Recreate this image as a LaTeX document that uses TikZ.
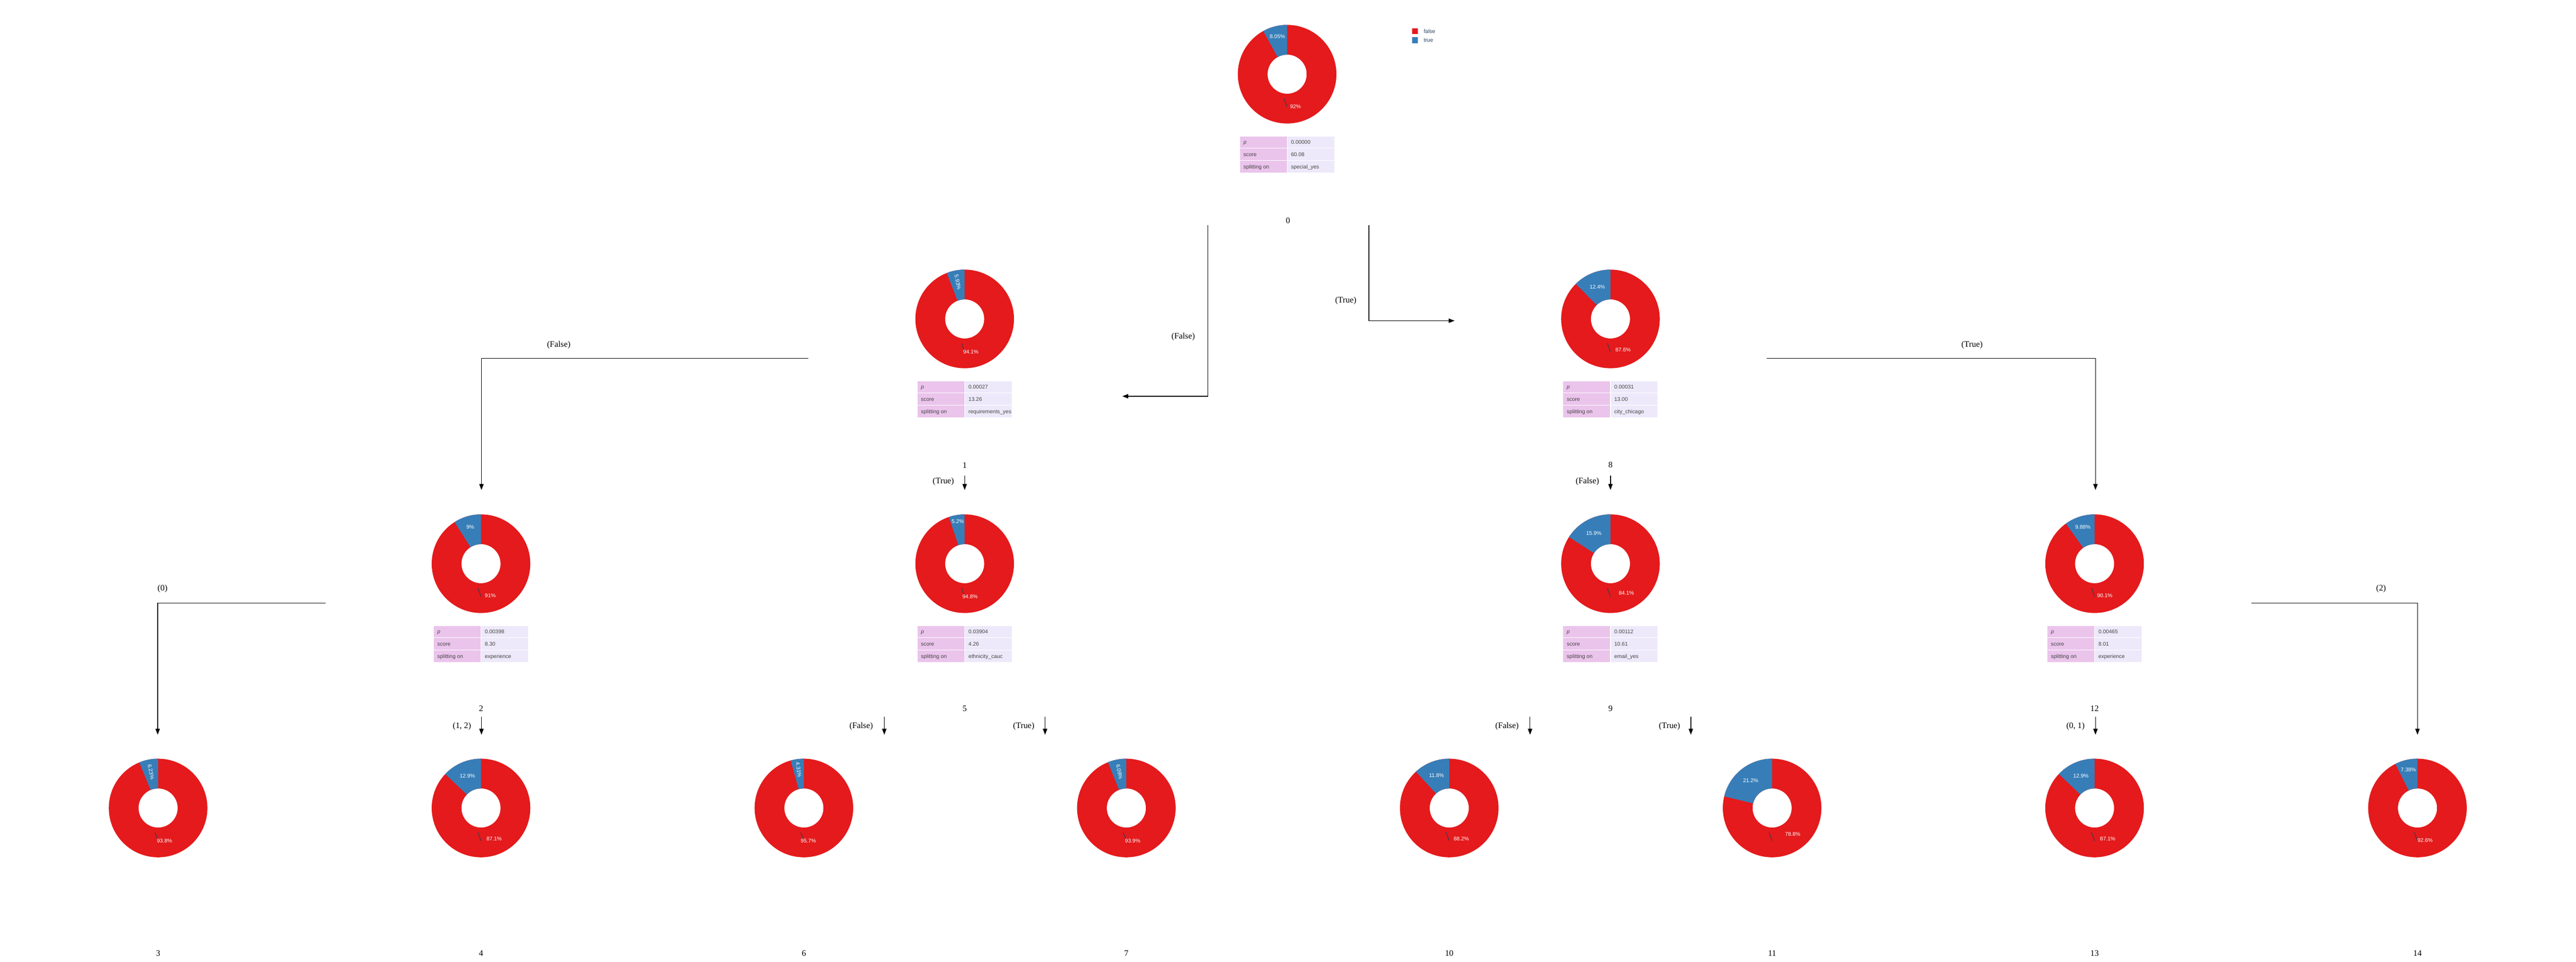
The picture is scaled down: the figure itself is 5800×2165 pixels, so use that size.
\documentclass[tikz,border=0pt]{standalone}
\usepackage{fontspec}
\setmainfont{Liberation Serif}
\setsansfont{Liberation Sans}
\usepackage{tikz}
\usetikzlibrary{calc,arrows.meta}

\definecolor{falsered}{HTML}{E41A1C}
\definecolor{trueblue}{HTML}{377EB8}
\definecolor{keycell}{RGB}{235,196,236}
\definecolor{valcell}{RGB}{237,233,250}
\definecolor{tabtext}{RGB}{68,68,68}
\definecolor{legtext}{HTML}{2A3F5F}
\definecolor{markcol}{RGB}{60,58,78}

\tikzset{
  treeedge/.style={draw=black, line width=0.4pt, -{Triangle[length=3.8pt,width=2.8pt]}},
  pct/.style={text=white, inner sep=0pt, font=\sffamily\fontsize{3.45}{4.2}\selectfont},
  piemark/.style={draw=markcol, line width=0.4pt},
  keybox/.style={fill=keycell, draw=white, line width=0.5pt},
  valbox/.style={fill=valcell, draw=white, line width=0.5pt},
  tabtxt/.style={text=tabtext, inner sep=0pt, anchor=base west, font=\sffamily\fontsize{3.45}{4.2}\selectfont},
  idlbl/.style={inner sep=0pt, font=\fontsize{5.4}{6}\selectfont},
  legtxt/.style={text=legtext, inner sep=0pt, anchor=west, font=\sffamily\fontsize{3.45}{4.2}\selectfont}
}

% donut: centre, true %, true text, false text, true label radius, true label rotation
\newcommand{\donut}[6]{%
  \pgfmathsetmacro{\angB}{90+3.6*#2}%
  \pgfmathsetmacro{\midB}{90+1.8*#2}%
  \pgfmathsetmacro{\midR}{1.8*#2-90}%
  \fill [falsered, even odd rule] (#1) circle [radius=111] circle [radius=44];
  \fill [trueblue] ($(#1)+(90:111)$) arc [start angle=90, end angle=\angB, radius=111]
        -- ($(#1)+(\angB:44)$) arc [start angle=\angB, end angle=90, radius=44] -- cycle;
  \draw [piemark] ($(#1)+(-7,-55)$) -- ($(#1)+(0,-74)$);
  \node [pct] (#1-false) at ($(#1)+(\midR:75)$) {#4};
  \node [pct, rotate=#6] (#1-true) at ($(#1)+(\midB:#5)$) {#3};
}

% split table under a donut: centre, p, score, feature
\newcommand{\splittab}[4]{%
  \foreach \k/\v [count=\i from 0] in {{\textit{p}}/#2, score/#3, splitting on/#4} {
    \filldraw [keybox] ($(#1)+(-107,-139-27.7*\i)$) rectangle ++(107,-27.7);
    \filldraw [valbox] ($(#1)+(0,-139-27.7*\i)$) rectangle ++(107,-27.7);
    \node [tabtxt] (#1-k\i) at ($(#1)+(-99,-157-27.7*\i)$) {\k};
    \node [tabtxt] (#1-v\i) at ($(#1)+(8,-157-27.7*\i)$) {\v};
  }
}

\begin{document}
\begin{tikzpicture}[x=0.1mm, y=0.1mm]
        \useasboundingbox (0,0) rectangle (5800,-2165);

        %Legend
        \fill [falsered] (3179,-64) rectangle (3192,-77);
        \node [legtxt] (legf) at (3205,-71) {false};
        \fill [trueblue] (3179,-84) rectangle (3192,-97);
        \node [legtxt] (legt) at (3205,-91) {true};

        %Centres
        \coordinate (n0)  at (2898,-167);
        \coordinate (n1)  at (2172,-718);
        \coordinate (n8)  at (3626,-718);
        \coordinate (n2)  at (1083,-1269);
        \coordinate (n5)  at (2172,-1269);
        \coordinate (n9)  at (3626,-1269);
        \coordinate (n12) at (4716,-1269);
        \coordinate (n3)  at (356,-1819);
        \coordinate (n4)  at (1083,-1819);
        \coordinate (n6)  at (1810,-1819);
        \coordinate (n7)  at (2536,-1819);
        \coordinate (n10) at (3263,-1819);
        \coordinate (n11) at (3990,-1819);
        \coordinate (n13) at (4716,-1819);
        \coordinate (n14) at (5443,-1819);

        %Root
        \donut{n0}{8.05}{8.05\%}{92\%}{88}{0}
        \splittab{n0}{0.00000}{60.08}{special\_yes}
        \node [idlbl] (id0) at (2900,-497) {0};

        %Level 1
        \donut{n1}{5.93}{5.93\%}{94.1\%}{84}{-79}
        \splittab{n1}{0.00027}{13.26}{requirements\_yes}
        \node [idlbl] (id1) at (2172,-1047) {1};
        \donut{n8}{12.4}{12.4\%}{87.6\%}{78}{0}
        \splittab{n8}{0.00031}{13.00}{city\_chicago}
        \node [idlbl] (id8) at (3626,-1047) {8};

        %Level 2
        \donut{n2}{9}{9\%}{91\%}{86}{0}
        \splittab{n2}{0.00398}{8.30}{experience}
        \node [idlbl] (id2) at (1083,-1595) {2};
        \donut{n5}{5.2}{5.2\%}{94.8\%}{96}{0}
        \splittab{n5}{0.03904}{4.26}{ethnicity\_cauc}
        \node [idlbl] (id5) at (2172,-1595) {5};
        \donut{n9}{15.9}{15.9\%}{84.1\%}{78}{0}
        \splittab{n9}{0.00112}{10.61}{email\_yes}
        \node [idlbl] (id9) at (3626,-1595) {9};
        \donut{n12}{9.88}{9.88\%}{90.1\%}{86}{0}
        \splittab{n12}{0.00465}{8.01}{experience}
        \node [idlbl] (id12) at (4716,-1595) {12};

        %Leaves
        \donut{n3}{6.23}{6.23\%}{93.8\%}{83}{-79}
        \node [idlbl] (id3) at (356,-2146) {3};
        \donut{n4}{12.9}{12.9\%}{87.1\%}{78}{0}
        \node [idlbl] (id4) at (1083,-2146) {4};
        \donut{n6}{4.31}{4.31\%}{95.7\%}{87}{-82}
        \node [idlbl] (id6) at (1810,-2146) {6};
        \donut{n7}{6.09}{6.09\%}{93.9\%}{83}{-79}
        \node [idlbl] (id7) at (2536,-2146) {7};
        \donut{n10}{11.8}{11.8\%}{88.2\%}{79}{0}
        \node [idlbl] (id10) at (3263,-2146) {10};
        \donut{n11}{21.2}{21.2\%}{78.8\%}{78}{0}
        \node [idlbl] (id11) at (3990,-2146) {11};
        \donut{n13}{12.9}{12.9\%}{87.1\%}{78}{0}
        \node [idlbl] (id13) at (4716,-2146) {13};
        \donut{n14}{7.38}{7.38\%}{92.6\%}{89}{0}
        \node [idlbl] (id14) at (5443,-2146) {14};

        %Edge ends
        \coordinate (r0a)  at (2720,-507);
        \coordinate (r0b)  at (2527,-892);
        \coordinate (r8a)  at (3082,-507);
        \coordinate (r8b)  at (3275,-722);
        \coordinate (a2)   at (1820,-807);
        \coordinate (b2)   at (1084,-1103);
        \coordinate (a5)   at (2172,-1071);
        \coordinate (b5)   at (2172,-1103);
        \coordinate (a9)   at (3626,-1071);
        \coordinate (b9)   at (3626,-1103);
        \coordinate (a12)  at (3978,-807);
        \coordinate (b12)  at (4718,-1103);
        \coordinate (a3)   at (733,-1358);
        \coordinate (b3)   at (355,-1654);
        \coordinate (a4)   at (1084,-1613);
        \coordinate (b4)   at (1084,-1654);
        \coordinate (a6)   at (1991,-1613);
        \coordinate (b6)   at (1991,-1654);
        \coordinate (a7)   at (2353,-1613);
        \coordinate (b7)   at (2353,-1654);
        \coordinate (a10)  at (3445,-1613);
        \coordinate (b10)  at (3445,-1654);
        \coordinate (a11)  at (3807,-1613);
        \coordinate (b11)  at (3807,-1654);
        \coordinate (a13)  at (4718,-1613);
        \coordinate (b13)  at (4718,-1654);
        \coordinate (a14)  at (5069,-1358);
        \coordinate (b14)  at (5443,-1654);

        %Edges
        \draw [treeedge] (r0a) |- (r0b);
        \node [idlbl] (e1) at (2664,-758) {(False)};
        \draw [treeedge] (r8a) |- (r8b);
        \node [idlbl] (e8) at (3030,-677) {(True)};
        \draw [treeedge] (a2) -| (b2);
        \node [idlbl] (e2) at (1258,-777) {(False)};
        \draw [treeedge] (a5) -- (b5);
        \node [idlbl] (e5) at (2124,-1084) {(True)};
        \draw [treeedge] (a9) -- (b9);
        \node [idlbl] (e9) at (3574,-1084) {(False)};
        \draw [treeedge] (a12) -| (b12);
        \node [idlbl] (e12) at (4440,-777) {(True)};
        \draw [treeedge] (a3) -| (b3);
        \node [idlbl] (e3) at (366,-1325) {(0)};
        \draw [treeedge] (a4) -- (b4);
        \node [idlbl] (e4) at (1040,-1635) {(1, 2)};
        \draw [treeedge] (a6) -- (b6);
        \node [idlbl] (e6) at (1939,-1635) {(False)};
        \draw [treeedge] (a7) -- (b7);
        \node [idlbl] (e7) at (2305,-1635) {(True)};
        \draw [treeedge] (a10) -- (b10);
        \node [idlbl] (e10) at (3393,-1635) {(False)};
        \draw [treeedge] (a11) -- (b11);
        \node [idlbl] (e11) at (3759,-1635) {(True)};
        \draw [treeedge] (a13) -- (b13);
        \node [idlbl] (e13) at (4673,-1635) {(0, 1)};
        \draw [treeedge] (a14) -| (b14);
        \node [idlbl] (e14) at (5361,-1325) {(2)};
\end{tikzpicture}
\end{document}
